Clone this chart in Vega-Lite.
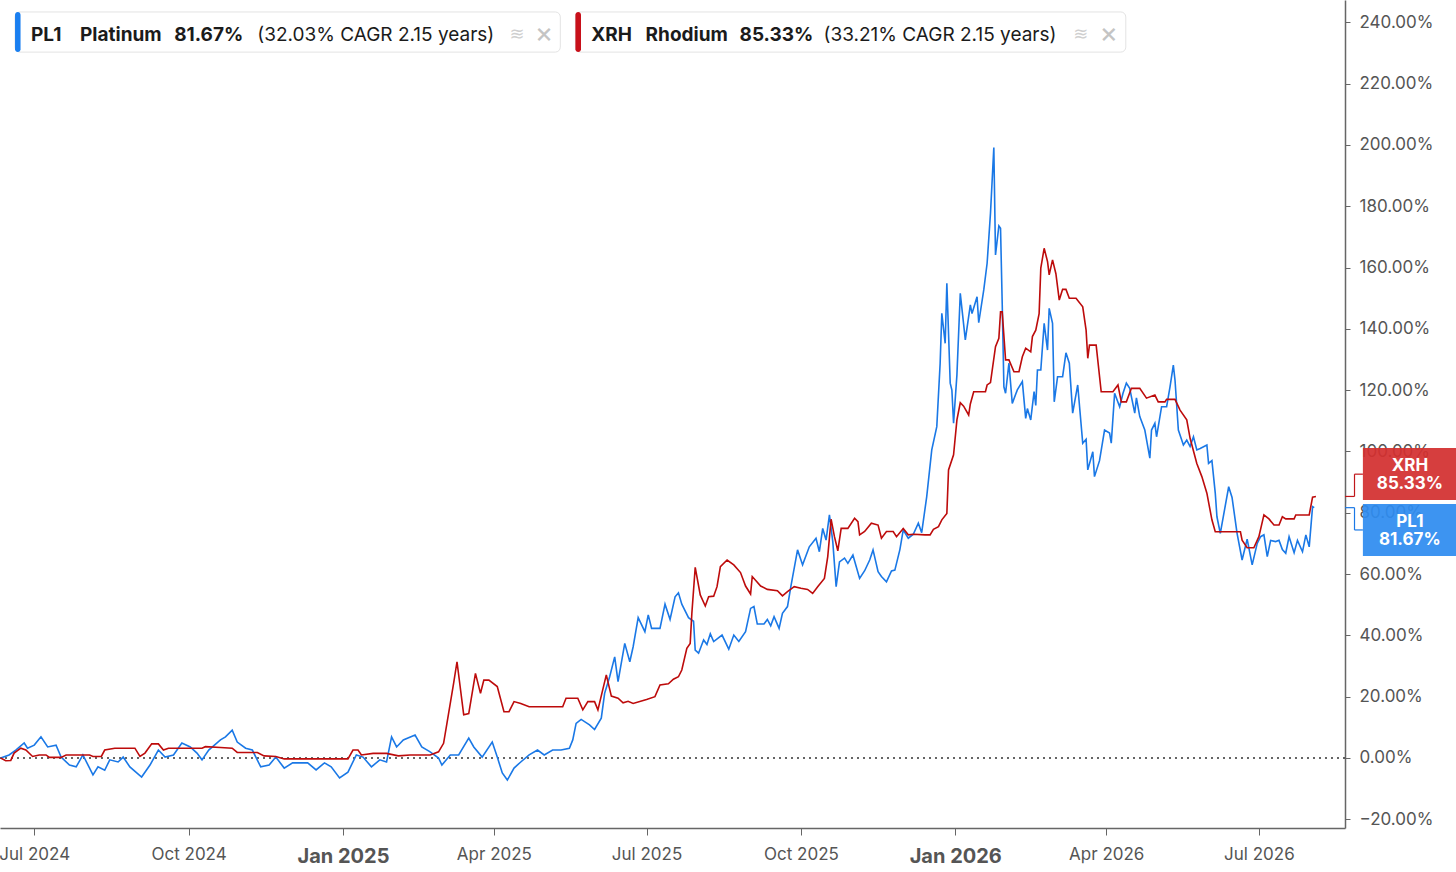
{
  "$schema": "https://vega.github.io/schema/vega-lite/v6.json",
  "width": 1345,
  "height": 828,
  "autosize": {"type": "none"},
  "padding": {"left": 0, "top": 0, "right": 111, "bottom": 44},
  "background": "white",
  "config": {
    "view": {"stroke": null},
    "font": "Inter",
    "text": {"font": "Inter"},
    "axis": {"grid": false, "labelFont": "Inter", "domainColor": "#666666", "tickColor": "#666666", "labelColor": "#555555"}
  },
  "layer": [
    {
      "data": {"values": [{}]},
      "mark": {"type": "rule", "strokeDash": [2, 4], "color": "#333333", "strokeWidth": 1.4},
      "encoding": {"y": {"datum": 0, "type": "quantitative"}}
    },
    {
      "data": {
        "values": [
          {"d":"2024-06-11","s":"PL1","v":0},{"d":"2024-06-16","s":"PL1","v":1},{"d":"2024-06-20","s":"PL1","v":2.6},{"d":"2024-06-25","s":"PL1","v":4.9},{"d":"2024-06-27","s":"PL1","v":3.2},{"d":"2024-07-01","s":"PL1","v":4.2},{"d":"2024-07-05","s":"PL1","v":6.9},{"d":"2024-07-09","s":"PL1","v":3.6},{"d":"2024-07-14","s":"PL1","v":4.2},{"d":"2024-07-17","s":"PL1","v":0.3},{"d":"2024-07-22","s":"PL1","v":-2.3},{"d":"2024-07-26","s":"PL1","v":-2.9},{"d":"2024-07-30","s":"PL1","v":1},{"d":"2024-08-05","s":"PL1","v":-5.5},{"d":"2024-08-08","s":"PL1","v":-2.9},{"d":"2024-08-12","s":"PL1","v":-4},{"d":"2024-08-15","s":"PL1","v":-0.6},{"d":"2024-08-20","s":"PL1","v":-1.3},{"d":"2024-08-23","s":"PL1","v":0.3},{"d":"2024-08-27","s":"PL1","v":-2.9},{"d":"2024-09-03","s":"PL1","v":-6.2},{"d":"2024-09-08","s":"PL1","v":-2.3},{"d":"2024-09-13","s":"PL1","v":2.6},{"d":"2024-09-17","s":"PL1","v":0.3},{"d":"2024-09-22","s":"PL1","v":1},{"d":"2024-09-27","s":"PL1","v":4.9},{"d":"2024-10-02","s":"PL1","v":3.6},{"d":"2024-10-06","s":"PL1","v":1.6},{"d":"2024-10-09","s":"PL1","v":-0.6},{"d":"2024-10-13","s":"PL1","v":2.6},{"d":"2024-10-20","s":"PL1","v":5.9},{"d":"2024-10-23","s":"PL1","v":6.9},{"d":"2024-10-27","s":"PL1","v":9.1},{"d":"2024-10-30","s":"PL1","v":5.2},{"d":"2024-11-04","s":"PL1","v":3.2},{"d":"2024-11-08","s":"PL1","v":2.6},{"d":"2024-11-13","s":"PL1","v":-2.9},{"d":"2024-11-18","s":"PL1","v":-2.3},{"d":"2024-11-22","s":"PL1","v":0.3},{"d":"2024-11-27","s":"PL1","v":-3.3},{"d":"2024-12-02","s":"PL1","v":-1.6},{"d":"2024-12-11","s":"PL1","v":-1.6},{"d":"2024-12-16","s":"PL1","v":-3.9},{"d":"2024-12-21","s":"PL1","v":-1.6},{"d":"2024-12-25","s":"PL1","v":-2.9},{"d":"2024-12-30","s":"PL1","v":-6.5},{"d":"2025-01-04","s":"PL1","v":-4.6},{"d":"2025-01-09","s":"PL1","v":1},{"d":"2025-01-13","s":"PL1","v":0.3},{"d":"2025-01-18","s":"PL1","v":-2.9},{"d":"2025-01-23","s":"PL1","v":-0.6},{"d":"2025-01-27","s":"PL1","v":-1.3},{"d":"2025-01-30","s":"PL1","v":6.9},{"d":"2025-02-02","s":"PL1","v":3.6},{"d":"2025-02-06","s":"PL1","v":5.9},{"d":"2025-02-13","s":"PL1","v":7.5},{"d":"2025-02-17","s":"PL1","v":3.6},{"d":"2025-02-22","s":"PL1","v":2},{"d":"2025-02-27","s":"PL1","v":0},{"d":"2025-03-01","s":"PL1","v":-2.3},{"d":"2025-03-06","s":"PL1","v":1},{"d":"2025-03-11","s":"PL1","v":1},{"d":"2025-03-17","s":"PL1","v":6.5},{"d":"2025-03-20","s":"PL1","v":3.6},{"d":"2025-03-25","s":"PL1","v":0.3},{"d":"2025-03-31","s":"PL1","v":5.2},{"d":"2025-04-03","s":"PL1","v":0.3},{"d":"2025-04-06","s":"PL1","v":-4.9},{"d":"2025-04-09","s":"PL1","v":-7.2},{"d":"2025-04-13","s":"PL1","v":-3.3},{"d":"2025-04-17","s":"PL1","v":-1.3},{"d":"2025-04-22","s":"PL1","v":1},{"d":"2025-04-27","s":"PL1","v":2.6},{"d":"2025-05-01","s":"PL1","v":1},{"d":"2025-05-06","s":"PL1","v":2.6},{"d":"2025-05-11","s":"PL1","v":2.6},{"d":"2025-05-16","s":"PL1","v":3.2},{"d":"2025-05-18","s":"PL1","v":5.9},{"d":"2025-05-20","s":"PL1","v":11.3},{"d":"2025-05-23","s":"PL1","v":12.6},{"d":"2025-05-28","s":"PL1","v":10.8},{"d":"2025-05-31","s":"PL1","v":9.3},{"d":"2025-06-04","s":"PL1","v":13},{"d":"2025-06-06","s":"PL1","v":21.1},{"d":"2025-06-09","s":"PL1","v":26.5},{"d":"2025-06-12","s":"PL1","v":33},{"d":"2025-06-14","s":"PL1","v":24.9},{"d":"2025-06-18","s":"PL1","v":37.4},{"d":"2025-06-21","s":"PL1","v":31.4},{"d":"2025-06-23","s":"PL1","v":36.3},{"d":"2025-06-26","s":"PL1","v":45.8},{"d":"2025-06-30","s":"PL1","v":41.2},{"d":"2025-07-02","s":"PL1","v":46.7},{"d":"2025-07-04","s":"PL1","v":42.3},{"d":"2025-07-09","s":"PL1","v":42.3},{"d":"2025-07-12","s":"PL1","v":50.2},{"d":"2025-07-15","s":"PL1","v":45.2},{"d":"2025-07-18","s":"PL1","v":52.6},{"d":"2025-07-20","s":"PL1","v":53.9},{"d":"2025-07-22","s":"PL1","v":50.2},{"d":"2025-07-26","s":"PL1","v":45.8},{"d":"2025-07-29","s":"PL1","v":44.6},{"d":"2025-07-30","s":"PL1","v":35.2},{"d":"2025-08-01","s":"PL1","v":34.2},{"d":"2025-08-04","s":"PL1","v":38.5},{"d":"2025-08-06","s":"PL1","v":37},{"d":"2025-08-08","s":"PL1","v":40.5},{"d":"2025-08-10","s":"PL1","v":38},{"d":"2025-08-15","s":"PL1","v":40.1},{"d":"2025-08-19","s":"PL1","v":35.5},{"d":"2025-08-22","s":"PL1","v":40.1},{"d":"2025-08-25","s":"PL1","v":38},{"d":"2025-08-29","s":"PL1","v":41.2},{"d":"2025-09-01","s":"PL1","v":48.8},{"d":"2025-09-03","s":"PL1","v":49.4},{"d":"2025-09-05","s":"PL1","v":43.7},{"d":"2025-09-09","s":"PL1","v":43.7},{"d":"2025-09-11","s":"PL1","v":45.2},{"d":"2025-09-13","s":"PL1","v":43.1},{"d":"2025-09-15","s":"PL1","v":46.1},{"d":"2025-09-18","s":"PL1","v":42.3},{"d":"2025-09-20","s":"PL1","v":47.2},{"d":"2025-09-23","s":"PL1","v":49.4},{"d":"2025-09-25","s":"PL1","v":55.9},{"d":"2025-09-29","s":"PL1","v":67.9},{"d":"2025-10-02","s":"PL1","v":63},{"d":"2025-10-06","s":"PL1","v":68.9},{"d":"2025-10-10","s":"PL1","v":71.7},{"d":"2025-10-12","s":"PL1","v":67.3},{"d":"2025-10-14","s":"PL1","v":74.9},{"d":"2025-10-16","s":"PL1","v":71.1},{"d":"2025-10-18","s":"PL1","v":79.3},{"d":"2025-10-20","s":"PL1","v":70.6},{"d":"2025-10-22","s":"PL1","v":55.9},{"d":"2025-10-24","s":"PL1","v":64},{"d":"2025-10-27","s":"PL1","v":65.2},{"d":"2025-10-29","s":"PL1","v":63.5},{"d":"2025-11-01","s":"PL1","v":66.2},{"d":"2025-11-03","s":"PL1","v":62.4},{"d":"2025-11-05","s":"PL1","v":58.6},{"d":"2025-11-08","s":"PL1","v":61.1},{"d":"2025-11-11","s":"PL1","v":64.6},{"d":"2025-11-13","s":"PL1","v":67.9},{"d":"2025-11-16","s":"PL1","v":60.8},{"d":"2025-11-18","s":"PL1","v":59.2},{"d":"2025-11-21","s":"PL1","v":57.5},{"d":"2025-11-24","s":"PL1","v":61},{"d":"2025-11-26","s":"PL1","v":61.3},{"d":"2025-11-29","s":"PL1","v":68},{"d":"2025-12-01","s":"PL1","v":74.4},{"d":"2025-12-04","s":"PL1","v":71.7},{"d":"2025-12-07","s":"PL1","v":73},{"d":"2025-12-10","s":"PL1","v":76.6},{"d":"2025-12-12","s":"PL1","v":73.5},{"d":"2025-12-15","s":"PL1","v":85.3},{"d":"2025-12-18","s":"PL1","v":100.5},{"d":"2025-12-21","s":"PL1","v":108.1},{"d":"2025-12-23","s":"PL1","v":128.8},{"d":"2025-12-24","s":"PL1","v":145.1},{"d":"2025-12-26","s":"PL1","v":135.3},{"d":"2025-12-27","s":"PL1","v":154.9},{"d":"2025-12-29","s":"PL1","v":122.3},{"d":"2025-12-30","s":"PL1","v":120},{"d":"2025-12-31","s":"PL1","v":109.2},{"d":"2026-01-02","s":"PL1","v":125},{"d":"2026-01-04","s":"PL1","v":151.6},{"d":"2026-01-07","s":"PL1","v":136.4},{"d":"2026-01-10","s":"PL1","v":147.8},{"d":"2026-01-11","s":"PL1","v":145},{"d":"2026-01-14","s":"PL1","v":150.5},{"d":"2026-01-15","s":"PL1","v":142},{"d":"2026-01-18","s":"PL1","v":152.7},{"d":"2026-01-20","s":"PL1","v":161.4},{"d":"2026-01-22","s":"PL1","v":177.7},{"d":"2026-01-24","s":"PL1","v":199.2},{"d":"2026-01-25","s":"PL1","v":164.1},{"d":"2026-01-27","s":"PL1","v":173.6},{"d":"2026-01-28","s":"PL1","v":172.8},{"d":"2026-01-29","s":"PL1","v":148.3},{"d":"2026-01-30","s":"PL1","v":121.1},{"d":"2026-01-31","s":"PL1","v":119},{"d":"2026-02-02","s":"PL1","v":128.8},{"d":"2026-02-04","s":"PL1","v":115.7},{"d":"2026-02-07","s":"PL1","v":120.1},{"d":"2026-02-10","s":"PL1","v":122.8},{"d":"2026-02-12","s":"PL1","v":110.8},{"d":"2026-02-13","s":"PL1","v":114},{"d":"2026-02-15","s":"PL1","v":110.3},{"d":"2026-02-17","s":"PL1","v":119.5},{"d":"2026-02-18","s":"PL1","v":115},{"d":"2026-02-19","s":"PL1","v":126.6},{"d":"2026-02-21","s":"PL1","v":126.6},{"d":"2026-02-23","s":"PL1","v":141.8},{"d":"2026-02-25","s":"PL1","v":133.1},{"d":"2026-02-26","s":"PL1","v":146.7},{"d":"2026-02-28","s":"PL1","v":141.8},{"d":"2026-03-01","s":"PL1","v":116.2},{"d":"2026-03-03","s":"PL1","v":124.4},{"d":"2026-03-06","s":"PL1","v":124.4},{"d":"2026-03-08","s":"PL1","v":132.2},{"d":"2026-03-10","s":"PL1","v":128.8},{"d":"2026-03-12","s":"PL1","v":112.5},{"d":"2026-03-15","s":"PL1","v":121.7},{"d":"2026-03-18","s":"PL1","v":102.7},{"d":"2026-03-20","s":"PL1","v":104},{"d":"2026-03-21","s":"PL1","v":94},{"d":"2026-03-24","s":"PL1","v":99.9},{"d":"2026-03-25","s":"PL1","v":91.8},{"d":"2026-03-28","s":"PL1","v":97},{"d":"2026-03-31","s":"PL1","v":107},{"d":"2026-04-03","s":"PL1","v":106},{"d":"2026-04-04","s":"PL1","v":102.7},{"d":"2026-04-06","s":"PL1","v":119},{"d":"2026-04-09","s":"PL1","v":114.6},{"d":"2026-04-11","s":"PL1","v":119},{"d":"2026-04-13","s":"PL1","v":122.3},{"d":"2026-04-15","s":"PL1","v":120.6},{"d":"2026-04-18","s":"PL1","v":112.5},{"d":"2026-04-19","s":"PL1","v":117.5},{"d":"2026-04-21","s":"PL1","v":111.4},{"d":"2026-04-24","s":"PL1","v":107},{"d":"2026-04-27","s":"PL1","v":97.8},{"d":"2026-04-28","s":"PL1","v":107},{"d":"2026-04-30","s":"PL1","v":109.2},{"d":"2026-05-01","s":"PL1","v":104.8},{"d":"2026-05-04","s":"PL1","v":114.6},{"d":"2026-05-07","s":"PL1","v":114.6},{"d":"2026-05-09","s":"PL1","v":121},{"d":"2026-05-11","s":"PL1","v":128.2},{"d":"2026-05-12","s":"PL1","v":123.3},{"d":"2026-05-14","s":"PL1","v":107},{"d":"2026-05-17","s":"PL1","v":102.1},{"d":"2026-05-19","s":"PL1","v":103.7},{"d":"2026-05-21","s":"PL1","v":101.6},{"d":"2026-05-23","s":"PL1","v":104.8},{"d":"2026-05-25","s":"PL1","v":100.5},{"d":"2026-05-27","s":"PL1","v":101},{"d":"2026-05-31","s":"PL1","v":102.1},{"d":"2026-06-01","s":"PL1","v":96.1},{"d":"2026-06-03","s":"PL1","v":97},{"d":"2026-06-05","s":"PL1","v":86.4},{"d":"2026-06-06","s":"PL1","v":78.7},{"d":"2026-06-08","s":"PL1","v":73.3},{"d":"2026-06-13","s":"PL1","v":88.5},{"d":"2026-06-15","s":"PL1","v":85},{"d":"2026-06-18","s":"PL1","v":73.3},{"d":"2026-06-21","s":"PL1","v":64.6},{"d":"2026-06-24","s":"PL1","v":71.4},{"d":"2026-06-27","s":"PL1","v":63},{"d":"2026-06-30","s":"PL1","v":70},{"d":"2026-07-02","s":"PL1","v":72.2},{"d":"2026-07-04","s":"PL1","v":72.8},{"d":"2026-07-06","s":"PL1","v":65.7},{"d":"2026-07-08","s":"PL1","v":71},{"d":"2026-07-11","s":"PL1","v":70.6},{"d":"2026-07-13","s":"PL1","v":71},{"d":"2026-07-15","s":"PL1","v":68},{"d":"2026-07-17","s":"PL1","v":66.8},{"d":"2026-07-19","s":"PL1","v":72.2},{"d":"2026-07-22","s":"PL1","v":67},{"d":"2026-07-24","s":"PL1","v":71},{"d":"2026-07-27","s":"PL1","v":67.3},{"d":"2026-07-29","s":"PL1","v":72.8},{"d":"2026-07-31","s":"PL1","v":68.9},{"d":"2026-08-02","s":"PL1","v":82},{"d":"2026-08-03","s":"PL1","v":81.67},
          {"d":"2024-06-11","s":"XRH","v":0},{"d":"2024-06-14","s":"XRH","v":-0.9},{"d":"2024-06-17","s":"XRH","v":-0.8},{"d":"2024-06-19","s":"XRH","v":1.6},{"d":"2024-06-23","s":"XRH","v":3.2},{"d":"2024-06-26","s":"XRH","v":2.6},{"d":"2024-06-30","s":"XRH","v":0.5},{"d":"2024-07-04","s":"XRH","v":1},{"d":"2024-07-08","s":"XRH","v":1},{"d":"2024-07-10","s":"XRH","v":0.2},{"d":"2024-07-17","s":"XRH","v":0.2},{"d":"2024-07-20","s":"XRH","v":1},{"d":"2024-08-03","s":"XRH","v":1},{"d":"2024-08-05","s":"XRH","v":0.5},{"d":"2024-08-10","s":"XRH","v":0.5},{"d":"2024-08-12","s":"XRH","v":2.6},{"d":"2024-08-18","s":"XRH","v":3.2},{"d":"2024-08-30","s":"XRH","v":3.2},{"d":"2024-09-02","s":"XRH","v":0.5},{"d":"2024-09-05","s":"XRH","v":1.6},{"d":"2024-09-09","s":"XRH","v":4.6},{"d":"2024-09-13","s":"XRH","v":4.6},{"d":"2024-09-16","s":"XRH","v":2.6},{"d":"2024-09-19","s":"XRH","v":3.2},{"d":"2024-10-09","s":"XRH","v":3.2},{"d":"2024-10-11","s":"XRH","v":3.7},{"d":"2024-10-20","s":"XRH","v":3.4},{"d":"2024-10-27","s":"XRH","v":3.2},{"d":"2024-10-30","s":"XRH","v":1.8},{"d":"2024-11-11","s":"XRH","v":1.8},{"d":"2024-11-15","s":"XRH","v":0.7},{"d":"2024-11-22","s":"XRH","v":0.5},{"d":"2024-11-27","s":"XRH","v":-0.3},{"d":"2025-01-04","s":"XRH","v":-0.3},{"d":"2025-01-07","s":"XRH","v":2.6},{"d":"2025-01-10","s":"XRH","v":2.6},{"d":"2025-01-12","s":"XRH","v":1},{"d":"2025-01-19","s":"XRH","v":1.5},{"d":"2025-01-27","s":"XRH","v":1.5},{"d":"2025-02-03","s":"XRH","v":0.7},{"d":"2025-02-10","s":"XRH","v":1},{"d":"2025-02-22","s":"XRH","v":1},{"d":"2025-02-27","s":"XRH","v":2},{"d":"2025-03-02","s":"XRH","v":4.8},{"d":"2025-03-04","s":"XRH","v":11.3},{"d":"2025-03-08","s":"XRH","v":24.4},{"d":"2025-03-10","s":"XRH","v":31.4},{"d":"2025-03-14","s":"XRH","v":14.1},{"d":"2025-03-17","s":"XRH","v":14.5},{"d":"2025-03-21","s":"XRH","v":27.6},{"d":"2025-03-24","s":"XRH","v":21.1},{"d":"2025-03-26","s":"XRH","v":25.4},{"d":"2025-03-29","s":"XRH","v":25.4},{"d":"2025-04-03","s":"XRH","v":23.3},{"d":"2025-04-07","s":"XRH","v":15.1},{"d":"2025-04-10","s":"XRH","v":15.1},{"d":"2025-04-13","s":"XRH","v":18.4},{"d":"2025-04-17","s":"XRH","v":17.8},{"d":"2025-04-22","s":"XRH","v":16.7},{"d":"2025-05-12","s":"XRH","v":16.7},{"d":"2025-05-14","s":"XRH","v":19.5},{"d":"2025-05-21","s":"XRH","v":19.5},{"d":"2025-05-24","s":"XRH","v":15.7},{"d":"2025-05-27","s":"XRH","v":18.4},{"d":"2025-05-31","s":"XRH","v":18.4},{"d":"2025-06-02","s":"XRH","v":15.7},{"d":"2025-06-07","s":"XRH","v":27.1},{"d":"2025-06-10","s":"XRH","v":20.2},{"d":"2025-06-14","s":"XRH","v":19.5},{"d":"2025-06-17","s":"XRH","v":18},{"d":"2025-06-20","s":"XRH","v":18.5},{"d":"2025-06-23","s":"XRH","v":17.8},{"d":"2025-07-01","s":"XRH","v":19.1},{"d":"2025-07-06","s":"XRH","v":20},{"d":"2025-07-09","s":"XRH","v":23.8},{"d":"2025-07-14","s":"XRH","v":24.2},{"d":"2025-07-17","s":"XRH","v":25.7},{"d":"2025-07-20","s":"XRH","v":26.5},{"d":"2025-07-22","s":"XRH","v":28.7},{"d":"2025-07-25","s":"XRH","v":35.8},{"d":"2025-07-27","s":"XRH","v":37.4},{"d":"2025-07-28","s":"XRH","v":47.2},{"d":"2025-07-30","s":"XRH","v":62.2},{"d":"2025-08-02","s":"XRH","v":53.2},{"d":"2025-08-05","s":"XRH","v":49.6},{"d":"2025-08-07","s":"XRH","v":52.6},{"d":"2025-08-10","s":"XRH","v":52.8},{"d":"2025-08-12","s":"XRH","v":55.9},{"d":"2025-08-14","s":"XRH","v":62.4},{"d":"2025-08-18","s":"XRH","v":64.6},{"d":"2025-08-22","s":"XRH","v":63},{"d":"2025-08-26","s":"XRH","v":60.5},{"d":"2025-08-29","s":"XRH","v":56.1},{"d":"2025-09-01","s":"XRH","v":53.5},{"d":"2025-09-02","s":"XRH","v":59.2},{"d":"2025-09-07","s":"XRH","v":56.1},{"d":"2025-09-11","s":"XRH","v":55},{"d":"2025-09-17","s":"XRH","v":54.6},{"d":"2025-09-20","s":"XRH","v":52.9},{"d":"2025-09-23","s":"XRH","v":54.3},{"d":"2025-09-27","s":"XRH","v":55.9},{"d":"2025-10-01","s":"XRH","v":55.4},{"d":"2025-10-05","s":"XRH","v":55},{"d":"2025-10-08","s":"XRH","v":53.7},{"d":"2025-10-11","s":"XRH","v":55.9},{"d":"2025-10-15","s":"XRH","v":58.6},{"d":"2025-10-17","s":"XRH","v":65.7},{"d":"2025-10-19","s":"XRH","v":77.9},{"d":"2025-10-21","s":"XRH","v":72.2},{"d":"2025-10-23","s":"XRH","v":67.6},{"d":"2025-10-25","s":"XRH","v":74.9},{"d":"2025-10-29","s":"XRH","v":74.9},{"d":"2025-11-02","s":"XRH","v":78.2},{"d":"2025-11-04","s":"XRH","v":77.1},{"d":"2025-11-05","s":"XRH","v":72.8},{"d":"2025-11-08","s":"XRH","v":73.9},{"d":"2025-11-12","s":"XRH","v":76.6},{"d":"2025-11-16","s":"XRH","v":76},{"d":"2025-11-18","s":"XRH","v":71.7},{"d":"2025-11-21","s":"XRH","v":73.9},{"d":"2025-11-25","s":"XRH","v":73.9},{"d":"2025-11-27","s":"XRH","v":72.2},{"d":"2025-12-01","s":"XRH","v":74.9},{"d":"2025-12-04","s":"XRH","v":72.8},{"d":"2025-12-07","s":"XRH","v":73},{"d":"2025-12-14","s":"XRH","v":72.8},{"d":"2025-12-17","s":"XRH","v":72.8},{"d":"2025-12-19","s":"XRH","v":74.6},{"d":"2025-12-22","s":"XRH","v":75.5},{"d":"2025-12-24","s":"XRH","v":77.7},{"d":"2025-12-27","s":"XRH","v":79.8},{"d":"2025-12-28","s":"XRH","v":94},{"d":"2025-12-31","s":"XRH","v":98.9},{"d":"2026-01-02","s":"XRH","v":110.3},{"d":"2026-01-04","s":"XRH","v":115.9},{"d":"2026-01-06","s":"XRH","v":114.8},{"d":"2026-01-09","s":"XRH","v":111.9},{"d":"2026-01-10","s":"XRH","v":115.5},{"d":"2026-01-12","s":"XRH","v":119.5},{"d":"2026-01-19","s":"XRH","v":119.5},{"d":"2026-01-20","s":"XRH","v":121.7},{"d":"2026-01-22","s":"XRH","v":122.5},{"d":"2026-01-25","s":"XRH","v":134.2},{"d":"2026-01-27","s":"XRH","v":136.9},{"d":"2026-01-28","s":"XRH","v":145.6},{"d":"2026-01-29","s":"XRH","v":145.6},{"d":"2026-01-31","s":"XRH","v":129.9},{"d":"2026-02-02","s":"XRH","v":129.9},{"d":"2026-02-05","s":"XRH","v":126},{"d":"2026-02-08","s":"XRH","v":126},{"d":"2026-02-10","s":"XRH","v":130.9},{"d":"2026-02-12","s":"XRH","v":133.7},{"d":"2026-02-15","s":"XRH","v":132.5},{"d":"2026-02-16","s":"XRH","v":137.5},{"d":"2026-02-18","s":"XRH","v":139.6},{"d":"2026-02-20","s":"XRH","v":145},{"d":"2026-02-21","s":"XRH","v":159.8},{"d":"2026-02-23","s":"XRH","v":166.3},{"d":"2026-02-25","s":"XRH","v":162},{"d":"2026-02-26","s":"XRH","v":157.6},{"d":"2026-02-28","s":"XRH","v":162.5},{"d":"2026-03-02","s":"XRH","v":158},{"d":"2026-03-04","s":"XRH","v":149.4},{"d":"2026-03-06","s":"XRH","v":152.9},{"d":"2026-03-08","s":"XRH","v":152.9},{"d":"2026-03-10","s":"XRH","v":150},{"d":"2026-03-14","s":"XRH","v":150},{"d":"2026-03-18","s":"XRH","v":147.2},{"d":"2026-03-20","s":"XRH","v":139.6},{"d":"2026-03-21","s":"XRH","v":130.4},{"d":"2026-03-22","s":"XRH","v":134.7},{"d":"2026-03-26","s":"XRH","v":134.7},{"d":"2026-03-29","s":"XRH","v":119.5},{"d":"2026-04-05","s":"XRH","v":119.5},{"d":"2026-04-08","s":"XRH","v":121.7},{"d":"2026-04-10","s":"XRH","v":116.2},{"d":"2026-04-13","s":"XRH","v":116.2},{"d":"2026-04-16","s":"XRH","v":120.6},{"d":"2026-04-21","s":"XRH","v":120.6},{"d":"2026-04-25","s":"XRH","v":117.4},{"d":"2026-04-30","s":"XRH","v":118.4},{"d":"2026-05-02","s":"XRH","v":116.2},{"d":"2026-05-06","s":"XRH","v":116.2},{"d":"2026-05-07","s":"XRH","v":117},{"d":"2026-05-12","s":"XRH","v":117},{"d":"2026-05-15","s":"XRH","v":113.5},{"d":"2026-05-19","s":"XRH","v":110.3},{"d":"2026-05-21","s":"XRH","v":104.3},{"d":"2026-05-25","s":"XRH","v":96.1},{"d":"2026-05-28","s":"XRH","v":91.8},{"d":"2026-05-31","s":"XRH","v":86.4},{"d":"2026-06-03","s":"XRH","v":77.7},{"d":"2026-06-05","s":"XRH","v":73.8},{"d":"2026-06-20","s":"XRH","v":73.8},{"d":"2026-06-21","s":"XRH","v":71.1},{"d":"2026-06-24","s":"XRH","v":68.6},{"d":"2026-06-28","s":"XRH","v":68.6},{"d":"2026-07-01","s":"XRH","v":72.2},{"d":"2026-07-04","s":"XRH","v":79.3},{"d":"2026-07-07","s":"XRH","v":78},{"d":"2026-07-10","s":"XRH","v":76},{"d":"2026-07-13","s":"XRH","v":76},{"d":"2026-07-15","s":"XRH","v":78.7},{"d":"2026-07-17","s":"XRH","v":78},{"d":"2026-07-22","s":"XRH","v":78},{"d":"2026-07-23","s":"XRH","v":79.3},{"d":"2026-07-31","s":"XRH","v":79.3},{"d":"2026-08-02","s":"XRH","v":85.1},{"d":"2026-08-04","s":"XRH","v":85.33}
        ]
      },
      "mark": {"type": "line", "strokeWidth": 1.6, "interpolate": "linear"},
      "encoding": {
        "x": {
          "field": "d",
          "type": "temporal",
          "scale": {
            "type": "utc",
            "domain": [
              {"year": 2024, "month": 6, "date": 10, "hours": 14, "utc": true},
              {"year": 2026, "month": 8, "date": 21, "hours": 8, "utc": true}
            ]
          },
          "axis": {
            "orient": "bottom",
            "title": null,
            "values": [
              {"year": 2024, "month": 7, "date": 1, "utc": true},
              {"year": 2024, "month": 10, "date": 1, "utc": true},
              {"year": 2025, "month": 1, "date": 1, "utc": true},
              {"year": 2025, "month": 4, "date": 1, "utc": true},
              {"year": 2025, "month": 7, "date": 1, "utc": true},
              {"year": 2025, "month": 10, "date": 1, "utc": true},
              {"year": 2026, "month": 1, "date": 1, "utc": true},
              {"year": 2026, "month": 4, "date": 1, "utc": true},
              {"year": 2026, "month": 7, "date": 1, "utc": true}
            ],
            "labelExpr": "utcFormat(datum.value, '%b %Y')",
            "labelFontSize": {"condition": {"test": "utcmonth(datum.value) === 0", "value": 20}, "value": 17},
            "labelFontWeight": {"condition": {"test": "utcmonth(datum.value) === 0", "value": "bold"}, "value": "normal"},
            "tickSize": 7,
            "labelPadding": 11,
            "domainWidth": 1.5,
            "labelFlush": false,
            "labelOverlap": false
          }
        },
        "y": {
          "field": "v",
          "type": "quantitative",
          "scale": {"domain": [-22.84, 247.3], "nice": false, "zero": false},
          "axis": {
            "orient": "right",
            "title": null,
            "values": [-20, 0, 20, 40, 60, 80, 100, 120, 140, 160, 180, 200, 220, 240],
            "labelExpr": "format(datum.value, '.2f') + '%'",
            "labelFontSize": 17,
            "tickSize": 5,
            "labelPadding": 9,
            "domainWidth": 1.5
          }
        },
        "color": {
          "field": "s",
          "type": "nominal",
          "scale": {"domain": ["PL1", "XRH"], "range": ["#1a78e6", "#bd0b0b"]},
          "legend": null
        }
      }
    },
    {
      "data": {"values": [{}]},
      "mark": {"type": "rect", "fill": "white", "stroke": "#e3e3e3", "strokeWidth": 1, "cornerRadius": 5, "clip": false},
      "encoding": {
        "x": {"datum": {"year": 2024, "month": 6, "date": 19, "hours": 13, "utc": true}, "type": "temporal"},
        "x2": {"datum": {"year": 2025, "month": 5, "date": 10, "hours": 14, "utc": true}},
        "y": {"datum": 243.4, "type": "quantitative"},
        "y2": {"datum": 230.3}
      }
    },
    {
      "data": {"values": [{}]},
      "mark": {"type": "rect", "fill": "white", "stroke": "#e3e3e3", "strokeWidth": 1, "cornerRadius": 5, "clip": false},
      "encoding": {
        "x": {"datum": {"year": 2025, "month": 5, "date": 19, "hours": 14, "utc": true}, "type": "temporal"},
        "x2": {"datum": {"year": 2026, "month": 4, "date": 12, "hours": 16, "utc": true}},
        "y": {"datum": 243.4, "type": "quantitative"},
        "y2": {"datum": 230.3}
      }
    },
    {
      "data": {"values": [{}]},
      "mark": {"type": "rect", "fill": "#1a7ff0", "cornerRadius": 3},
      "encoding": {
        "x": {"datum": {"year": 2024, "month": 6, "date": 19, "hours": 13, "utc": true}, "type": "temporal"},
        "x2": {"datum": {"year": 2024, "month": 6, "date": 22, "hours": 20, "utc": true}},
        "y": {"datum": 243.4, "type": "quantitative"},
        "y2": {"datum": 230.3}
      }
    },
    {
      "data": {"values": [{}]},
      "mark": {"type": "rect", "fill": "#c8101a", "cornerRadius": 3},
      "encoding": {
        "x": {"datum": {"year": 2025, "month": 5, "date": 19, "hours": 14, "utc": true}, "type": "temporal"},
        "x2": {"datum": {"year": 2025, "month": 5, "date": 22, "hours": 22, "utc": true}},
        "y": {"datum": 243.4, "type": "quantitative"},
        "y2": {"datum": 230.3}
      }
    },
    {
      "data": {"values": [{}]},
      "mark": {"type": "text", "align": "left", "baseline": "middle", "fontSize": 19, "fontWeight": "bold", "color": "#1b1b1b", "text": "PL1"},
      "encoding": {"x": {"datum": {"year": 2024, "month": 6, "date": 29, "hours": 2, "utc": true}, "type": "temporal"}, "y": {"datum": 236.0, "type": "quantitative"}}
    },
    {
      "data": {"values": [{}]},
      "mark": {"type": "text", "align": "left", "baseline": "middle", "fontSize": 19, "fontWeight": "bold", "color": "#1b1b1b", "text": "Platinum"},
      "encoding": {"x": {"datum": {"year": 2024, "month": 7, "date": 28, "hours": 7, "utc": true}, "type": "temporal"}, "y": {"datum": 236.0, "type": "quantitative"}}
    },
    {
      "data": {"values": [{}]},
      "mark": {"type": "text", "align": "left", "baseline": "middle", "fontSize": 19, "fontWeight": "bold", "color": "#1b1b1b", "text": "81.67%"},
      "encoding": {"x": {"datum": {"year": 2024, "month": 9, "date": 22, "hours": 10, "utc": true}, "type": "temporal"}, "y": {"datum": 236.0, "type": "quantitative"}}
    },
    {
      "data": {"values": [{}]},
      "mark": {"type": "text", "align": "left", "baseline": "middle", "fontSize": 19, "color": "#1b1b1b", "text": "(32.03% CAGR 2.15 years)"},
      "encoding": {"x": {"datum": {"year": 2024, "month": 11, "date": 10, "hours": 22, "utc": true}, "type": "temporal"}, "y": {"datum": 236.0, "type": "quantitative"}}
    },
    {
      "data": {"values": [{}]},
      "mark": {"type": "text", "align": "center", "baseline": "middle", "fontSize": 18, "font": "DejaVu Sans", "color": "#cfcfcf", "text": "≋"},
      "encoding": {"x": {"datum": {"year": 2025, "month": 4, "date": 14, "hours": 20, "utc": true}, "type": "temporal"}, "y": {"datum": 236.0, "type": "quantitative"}}
    },
    {
      "data": {"values": [{}]},
      "mark": {"type": "text", "align": "center", "baseline": "middle", "fontSize": 28, "color": "#c4c4c4", "text": "×"},
      "encoding": {"x": {"datum": {"year": 2025, "month": 4, "date": 30, "hours": 22, "utc": true}, "type": "temporal"}, "y": {"datum": 236.3, "type": "quantitative"}}
    },
    {
      "data": {"values": [{}]},
      "mark": {"type": "text", "align": "left", "baseline": "middle", "fontSize": 19, "fontWeight": "bold", "color": "#1b1b1b", "text": "XRH"},
      "encoding": {"x": {"datum": {"year": 2025, "month": 5, "date": 29, "hours": 2, "utc": true}, "type": "temporal"}, "y": {"datum": 236.0, "type": "quantitative"}}
    },
    {
      "data": {"values": [{}]},
      "mark": {"type": "text", "align": "left", "baseline": "middle", "fontSize": 19, "fontWeight": "bold", "color": "#1b1b1b", "text": "Rhodium"},
      "encoding": {"x": {"datum": {"year": 2025, "month": 6, "date": 30, "hours": 10, "utc": true}, "type": "temporal"}, "y": {"datum": 236.0, "type": "quantitative"}}
    },
    {
      "data": {"values": [{}]},
      "mark": {"type": "text", "align": "left", "baseline": "middle", "fontSize": 19, "fontWeight": "bold", "color": "#1b1b1b", "text": "85.33%"},
      "encoding": {"x": {"datum": {"year": 2025, "month": 8, "date": 25, "hours": 10, "utc": true}, "type": "temporal"}, "y": {"datum": 236.0, "type": "quantitative"}}
    },
    {
      "data": {"values": [{}]},
      "mark": {"type": "text", "align": "left", "baseline": "middle", "fontSize": 19, "color": "#1b1b1b", "text": "(33.21% CAGR 2.15 years)"},
      "encoding": {"x": {"datum": {"year": 2025, "month": 10, "date": 14, "hours": 12, "utc": true}, "type": "temporal"}, "y": {"datum": 236.0, "type": "quantitative"}}
    },
    {
      "data": {"values": [{}]},
      "mark": {"type": "text", "align": "center", "baseline": "middle", "fontSize": 18, "font": "DejaVu Sans", "color": "#cfcfcf", "text": "≋"},
      "encoding": {"x": {"datum": {"year": 2026, "month": 3, "date": 16, "hours": 20, "utc": true}, "type": "temporal"}, "y": {"datum": 236.0, "type": "quantitative"}}
    },
    {
      "data": {"values": [{}]},
      "mark": {"type": "text", "align": "center", "baseline": "middle", "fontSize": 28, "color": "#c4c4c4", "text": "×"},
      "encoding": {"x": {"datum": {"year": 2026, "month": 4, "date": 2, "hours": 14, "utc": true}, "type": "temporal"}, "y": {"datum": 236.3, "type": "quantitative"}}
    },
    {
      "data": {"values": [{}]},
      "mark": {"type": "rule", "color": "#c0171b", "strokeWidth": 1.2, "clip": false},
      "encoding": {
        "x": {"datum": {"year": 2026, "month": 8, "date": 21, "hours": 8, "utc": true}, "type": "temporal"},
        "x2": {"datum": {"year": 2026, "month": 8, "date": 27, "utc": true}},
        "y": {"datum": 85.33, "type": "quantitative"}
      }
    },
    {
      "data": {"values": [{}]},
      "mark": {"type": "rule", "color": "#c0171b", "strokeWidth": 1.2, "clip": false},
      "encoding": {
        "x": {"datum": {"year": 2026, "month": 8, "date": 27, "utc": true}, "type": "temporal"},
        "y": {"datum": 85.33, "type": "quantitative"},
        "y2": {"datum": 92.6}
      }
    },
    {
      "data": {"values": [{}]},
      "mark": {"type": "rule", "color": "#c0171b", "strokeWidth": 1.2, "clip": false},
      "encoding": {
        "x": {"datum": {"year": 2026, "month": 8, "date": 27, "utc": true}, "type": "temporal"},
        "x2": {"datum": {"year": 2026, "month": 9, "date": 1, "utc": true}},
        "y": {"datum": 92.6, "type": "quantitative"}
      }
    },
    {
      "data": {"values": [{}]},
      "mark": {"type": "rule", "color": "#1a78e6", "strokeWidth": 1.2, "clip": false},
      "encoding": {
        "x": {"datum": {"year": 2026, "month": 8, "date": 21, "hours": 8, "utc": true}, "type": "temporal"},
        "x2": {"datum": {"year": 2026, "month": 8, "date": 27, "utc": true}},
        "y": {"datum": 81.67, "type": "quantitative"}
      }
    },
    {
      "data": {"values": [{}]},
      "mark": {"type": "rule", "color": "#1a78e6", "strokeWidth": 1.2, "clip": false},
      "encoding": {
        "x": {"datum": {"year": 2026, "month": 8, "date": 27, "utc": true}, "type": "temporal"},
        "y": {"datum": 81.67, "type": "quantitative"},
        "y2": {"datum": 74.4}
      }
    },
    {
      "data": {"values": [{}]},
      "mark": {"type": "rule", "color": "#1a78e6", "strokeWidth": 1.2, "clip": false},
      "encoding": {
        "x": {"datum": {"year": 2026, "month": 8, "date": 27, "utc": true}, "type": "temporal"},
        "x2": {"datum": {"year": 2026, "month": 9, "date": 1, "utc": true}},
        "y": {"datum": 74.4, "type": "quantitative"}
      }
    },
    {
      "data": {"values": [{}]},
      "mark": {"type": "rect", "fill": "#d32f2f", "fillOpacity": 0.93, "clip": false},
      "encoding": {
        "x": {"datum": {"year": 2026, "month": 9, "date": 1, "utc": true}, "type": "temporal"},
        "x2": {"datum": {"year": 2026, "month": 10, "date": 28, "utc": true}},
        "y": {"datum": 101.1, "type": "quantitative"},
        "y2": {"datum": 84.2}
      }
    },
    {
      "data": {"values": [{}]},
      "mark": {"type": "rect", "fill": "#2e8cf0", "fillOpacity": 0.93, "clip": false},
      "encoding": {
        "x": {"datum": {"year": 2026, "month": 9, "date": 1, "utc": true}, "type": "temporal"},
        "x2": {"datum": {"year": 2026, "month": 10, "date": 28, "utc": true}},
        "y": {"datum": 82.9, "type": "quantitative"},
        "y2": {"datum": 65.9}
      }
    },
    {
      "data": {"values": [{}]},
      "mark": {"type": "text", "align": "center", "baseline": "middle", "dy": -8, "fontSize": 17, "fontWeight": "bold", "color": "white", "lineHeight": 18, "text": ["XRH", "85.33%"], "clip": false},
      "encoding": {"x": {"datum": {"year": 2026, "month": 9, "date": 29, "utc": true}, "type": "temporal"}, "y": {"datum": 92.6, "type": "quantitative"}}
    },
    {
      "data": {"values": [{}]},
      "mark": {"type": "text", "align": "center", "baseline": "middle", "dy": -8, "fontSize": 17, "fontWeight": "bold", "color": "white", "lineHeight": 18, "text": ["PL1", "81.67%"], "clip": false},
      "encoding": {"x": {"datum": {"year": 2026, "month": 9, "date": 29, "utc": true}, "type": "temporal"}, "y": {"datum": 74.4, "type": "quantitative"}}
    }
  ]
}
